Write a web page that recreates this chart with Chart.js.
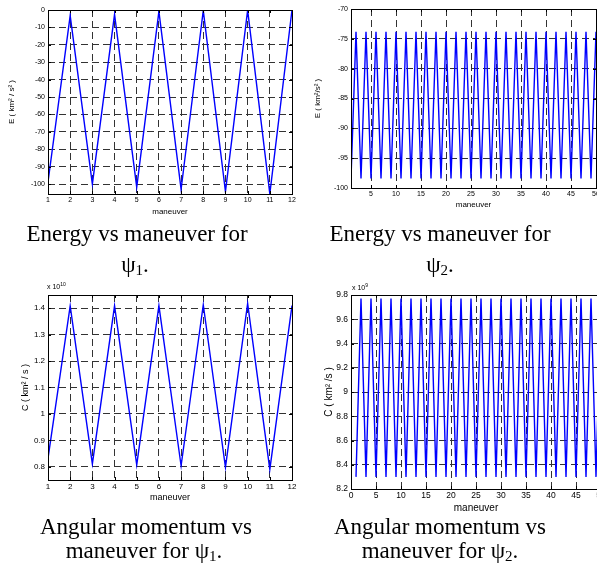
<!DOCTYPE html>
<html>
<head>
<meta charset="utf-8">
<script src="https://cdn.jsdelivr.net/npm/chart.js@4.4.0/dist/chart.umd.min.js"></script>
<style>
  body { margin: 0; width: 597px; height: 576px; overflow: hidden; background: #fff; position: relative; font-family: "Liberation Serif", "Times New Roman", serif; }
  canvas { position: absolute; }
  .cap { position: absolute; width: 320px; text-align: center; font-size: 23px; line-height: 23px; color: #000; white-space: nowrap; }
  .cap sub { font-size: 15px; vertical-align: -3px; line-height: 0; }
  .exp { position: absolute; font-family: "Liberation Sans", Arial, sans-serif; font-size: 7px; color: #000; white-space: nowrap; }
  .exp sup { font-size: 5px; vertical-align: 3px; line-height: 0; }
</style>
</head>
<body>
<canvas id="c1" width="300" height="222" style="left:0;top:0"></canvas>
<canvas id="c2" width="310" height="215" style="left:300px;top:0"></canvas>
<canvas id="c3" width="300" height="225" style="left:0;top:280px"></canvas>
<canvas id="c4" width="310" height="235" style="left:300px;top:280px"></canvas>

<div class="exp" style="left:47px;top:283px">x 10<sup>10</sup></div>
<div class="exp" style="left:352px;top:284px">x 10<sup>9</sup></div>

<div class="cap" style="left:-23px;top:222px">Energy vs maneuver for</div>
<div class="cap" style="left:-25px;top:253px">&psi;<sub>1</sub>.</div>
<div class="cap" style="left:280px;top:222px">Energy vs maneuver for</div>
<div class="cap" style="left:280px;top:253px">&psi;<sub>2</sub>.</div>

<div class="cap" style="left:-14px;top:515px">Angular momentum vs</div>
<div class="cap" style="left:-16px;top:539px">maneuver for &psi;<sub>1</sub>.</div>
<div class="cap" style="left:280px;top:515px">Angular momentum vs</div>
<div class="cap" style="left:280px;top:539px">maneuver for &psi;<sub>2</sub>.</div>

<script>
// maneuver numbers (x values)
const maneuversA = [1, 2, 3, 4, 5, 6, 7, 8, 9, 10, 11, 12];
const maneuversB = [1, 2, 3, 4, 5, 6, 7, 8, 9, 10, 11, 12, 13, 14, 15, 16, 17, 18, 19, 20,
  21, 22, 23, 24, 25, 26, 27, 28, 29, 30, 31, 32, 33, 34, 35, 36, 37, 38, 39, 40,
  41, 42, 43, 44, 45, 46, 47, 48, 49, 50];

// energy (km^2/s^2)
const energyA = [-98.8, -3.2, -100, -2.5, -101.8, -0.8, -103, -0.3, -104.3, -0.1, -105.6, 0];
const energyB = [-98.4, -73.8, -98.4, -73.8, -98.4, -73.8, -98.4, -73.8, -98.4, -73.8,
  -98.4, -73.8, -98.4, -73.8, -98.4, -73.8, -98.4, -73.8, -98.4, -73.8,
  -98.4, -73.8, -98.4, -73.8, -98.4, -73.8, -98.4, -73.8, -98.4, -73.8,
  -98.4, -73.8, -98.4, -73.8, -98.4, -73.8, -98.4, -73.8, -98.4, -73.8,
  -98.4, -73.8, -98.4, -73.8, -98.4, -73.8, -98.4, -73.8, -98.4, -73.8];

// angular momentum, psi1 in 1e10 km^2/s, psi2 in 1e9 km^2/s
const momentumA = [0.832, 1.409, 0.811, 1.409, 0.807, 1.41, 0.804, 1.413, 0.798, 1.418, 0.79, 1.41];
const momentumB = [8.30, 9.77, 8.30, 9.77, 8.30, 9.77, 8.30, 9.77, 8.30, 9.77,
  8.30, 9.77, 8.30, 9.77, 8.30, 9.77, 8.30, 9.77, 8.30, 9.77,
  8.30, 9.77, 8.30, 9.77, 8.30, 9.77, 8.30, 9.77, 8.30, 9.77,
  8.30, 9.77, 8.30, 9.77, 8.30, 9.77, 8.30, 9.77, 8.30, 9.77,
  8.30, 9.77, 8.30, 9.77, 8.30, 9.77, 8.30, 9.77, 8.30, 9.77];

// tick values
const xTicksA = [1, 2, 3, 4, 5, 6, 7, 8, 9, 10, 11, 12];
const xTicksB = [5, 10, 15, 20, 25, 30, 35, 40, 45, 50];
const xTicksD = [0, 5, 10, 15, 20, 25, 30, 35, 40, 45, 50];
const yTicksA = [0, -10, -20, -30, -40, -50, -60, -70, -80, -90, -100];
const yTicksB = [-70, -75, -80, -85, -90, -95, -100];
const yTicksC = [0.8, 0.9, 1, 1.1, 1.2, 1.3, 1.4];
const yTicksD = [8.2, 8.4, 8.6, 8.8, 9, 9.2, 9.4, 9.6, 9.8];

const sans = 'Liberation Sans, Arial, sans-serif';

// matlab style box round the axes, with short ticks pointing inwards
const boxPlugin = {
  id: 'box',
  afterDraw(chart) {
    const a = chart.chartArea, c = chart.ctx, len = 3;
    const sx = chart.scales.x, sy = chart.scales.y;
    c.save();
    c.strokeStyle = '#000';
    c.lineWidth = 1;
    c.strokeRect(Math.round(a.left) + 0.5, Math.round(a.top) + 0.5, Math.round(a.right - a.left), Math.round(a.bottom - a.top));
    c.beginPath();
    sx.ticks.forEach(t => {
      const px = Math.round(sx.getPixelForValue(t.value)) + 0.5;
      c.moveTo(px, a.bottom); c.lineTo(px, a.bottom - len);
      c.moveTo(px, a.top); c.lineTo(px, a.top + len);
    });
    sy.ticks.forEach(t => {
      const py = Math.round(sy.getPixelForValue(t.value)) + 0.5;
      c.moveTo(a.left, py); c.lineTo(a.left + len, py);
      c.moveTo(a.right, py); c.lineTo(a.right - len, py);
    });
    c.stroke();
    c.restore();
  }
};

function fmt(v) {
  return String(Math.round(v * 100) / 100);
}

function makeChart(id, xs, ys, o) {
  return new Chart(document.getElementById(id), {
    type: 'line',
    data: {
      datasets: [{
        data: xs.map((x, i) => ({ x: x, y: ys[i] })),
        borderColor: '#0000ff',
        borderWidth: 1.4,
        pointRadius: 0,
        tension: 0,
        fill: false
      }]
    },
    options: {
      responsive: false,
      animation: false,
      layout: { padding: o.pad },
      plugins: { legend: { display: false }, tooltip: { enabled: false } },
      scales: {
        x: {
          type: 'linear', min: o.xMin, max: o.xMax,
          afterBuildTicks: s => { s.ticks = o.xTicks.map(v => ({ value: v })); },
          afterFit: s => { s.height = o.xH; },
          ticks: { color: '#000', font: { family: sans, size: o.tickSize }, padding: 2, maxRotation: 0, autoSkip: false, callback: fmt },
          grid: { color: '#333', lineWidth: 1, drawTicks: false },
          border: { display: false, dash: [7, 4] },
          title: { display: true, text: 'maneuver', color: '#000', font: { family: sans, size: o.titleSize }, padding: { top: 0, bottom: o.xTitlePad } }
        },
        y: {
          min: o.yMin, max: o.yMax,
          afterBuildTicks: s => { s.ticks = o.yTicks.map(v => ({ value: v })); },
          afterFit: s => { s.width = o.yW; },
          ticks: { color: '#000', font: { family: sans, size: o.tickSize }, padding: 3, autoSkip: false, callback: fmt },
          grid: { color: '#333', lineWidth: 1, drawTicks: false },
          border: { display: false, dash: [7, 4] },
          title: { display: true, text: o.yTitle, color: '#000', font: { family: sans, size: o.titleSize }, padding: { top: o.yTitlePad, bottom: 0 } }
        }
      }
    },
    plugins: [boxPlugin]
  });
}

makeChart('c1', maneuversA, energyA, {
  xMin: 1, xMax: 12, yMin: -105.7, yMax: 0, xTicks: xTicksA, yTicks: yTicksA,
  pad: { top: 10, right: 8, bottom: 0, left: 0 }, xH: 28, yW: 48,
  tickSize: 7, titleSize: 8, xTitlePad: 5, yTitlePad: 7, yTitle: 'E ( km\u00b2 / s\u00b2 )'
});

makeChart('c2', maneuversB, energyB, {
  xMin: 1, xMax: 50, yMin: -100, yMax: -70, xTicks: xTicksB, yTicks: yTicksB,
  pad: { top: 9, right: 14, bottom: 0, left: 0 }, xH: 27, yW: 51,
  tickSize: 7, titleSize: 8, xTitlePad: 5, yTitlePad: 13, yTitle: 'E ( km\u00b2/s\u00b2 )'
});

makeChart('c3', maneuversA, momentumA, {
  xMin: 1, xMax: 12, yMin: 0.75, yMax: 1.45, xTicks: xTicksA, yTicks: yTicksC,
  pad: { top: 15, right: 8, bottom: 0, left: 0 }, xH: 25, yW: 48,
  tickSize: 8, titleSize: 9, xTitlePad: 2, yTitlePad: 20, yTitle: 'C ( km\u00b2 / s )'
});

makeChart('c4', maneuversB, momentumB, {
  xMin: 0, xMax: 50, yMin: 8.2, yMax: 9.8, xTicks: xTicksD, yTicks: yTicksD,
  pad: { top: 15, right: 9, bottom: 0, left: 0 }, xH: 26, yW: 51,
  tickSize: 8.5, titleSize: 10, xTitlePad: 1, yTitlePad: 23, yTitle: 'C ( km\u00b2 /s )'
});
</script>
</body>
</html>
